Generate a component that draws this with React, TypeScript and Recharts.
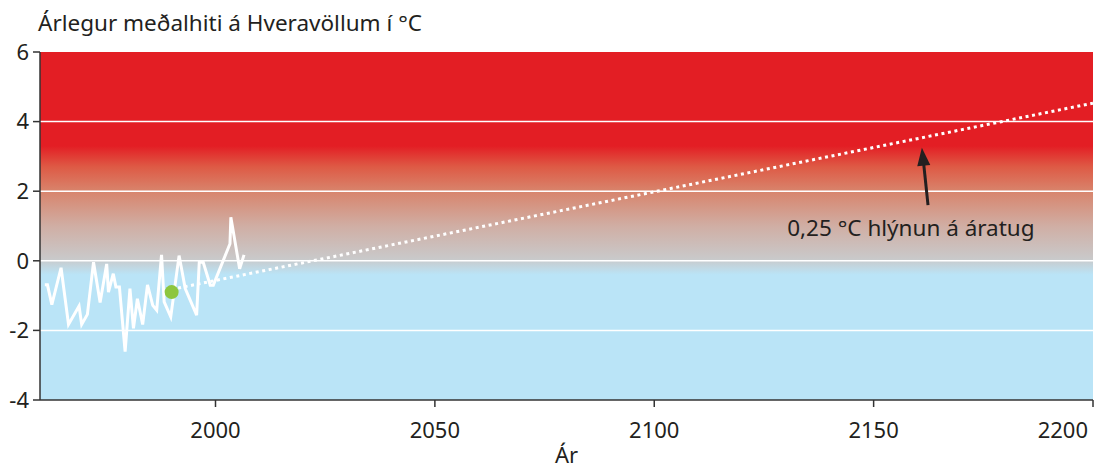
import React from 'react';
import {
  LineChart, Line, XAxis, YAxis, ReferenceArea, ReferenceLine, ReferenceDot,
} from 'recharts';

const histYears = [1961.1, 1961.7, 1962.7, 1964.8, 1966.5, 1968.9, 1969.5, 1970.8, 1972.2, 1973.7, 1975.2, 1975.6, 1976.7, 1977.3, 1978.1, 1979.4, 1980.5, 1981.3, 1982.2, 1983.4, 1984.5, 1985.7, 1986.6, 1987.7, 1988.3, 1989.8, 1991.7, 1993.1, 1995.7, 1996.3, 1997.2, 1998.8, 1999.5, 2003.3, 2003.5, 2005.5, 2006.5];
const histTemps = [-0.69, -0.69, -1.26, -0.2, -1.83, -1.3, -1.83, -1.54, -0.04, -1.2, -0.09, -0.9, -0.37, -0.75, -0.75, -2.61, -0.8, -1.94, -1.09, -1.83, -0.69, -1.28, -1.42, 0.17, -1.18, -1.61, 0.15, -0.8, -1.56, -0.04, -0.04, -0.7, -0.7, 0.49, 1.25, -0.23, 0.17];

// Projected warming trend: 0.25 °C per decade
const trendYears = [1990, 2200];
const trendTemps = [-0.82, 4.53];

// Reference point
const refYear = 1990;
const refTemp = -0.9;

const xTicks = [2000, 2050, 2100, 2150, 2200];
const yTicks = [-4, -2, 0, 2, 4, 6];
const gridValues = [-2, 0, 2, 4];

const titleText = 'Árlegur meðalhiti á Hveravöllum í °C';
const xLabel = 'Ár';
const annotationText = '0,25 °C hlýnun á áratug';
const arrowTip = { year: 2161, temp: 3.25 };
const arrowBase = { year: 2162.4, temp: 1.6 };
const annotationPos = { year: 2158.5, temp: 0.95 };

const histData = histYears.map((y, i) => ({ year: y, temp: histTemps[i] }));
const trendData = trendYears.map((y, i) => ({ year: y, trend: trendTemps[i] }));

const FONT = '"Noto Sans", "Open Sans", sans-serif';
const DARK = '#231F20';

const BgShape = (props: any) => {
  const { x, y, width, height } = props;
  return (
    <g>
      <defs>
        <linearGradient id="bgGrad" x1="0" y1="0" x2="0" y2="1">
          <stop offset="0" stopColor="#E31E24" />
          <stop offset="0.27" stopColor="#E31E24" />
          <stop offset="0.33" stopColor="#DE5A45" />
          <stop offset="0.4" stopColor="#D8846C" />
          <stop offset="0.5" stopColor="#D0AEA4" />
          <stop offset="0.595" stopColor="#C9C9CA" />
          <stop offset="0.64" stopColor="#BAE4F7" />
          <stop offset="1" stopColor="#BAE4F7" />
        </linearGradient>
      </defs>
      <rect x={x} y={y} width={width} height={height} fill="url(#bgGrad)" />
    </g>
  );
};

const ArrowHead = (props: any) => {
  const { cx, cy } = props;
  const pts = `${cx},${cy} ${cx + 8.4},${cy + 17.2} ${cx - 4.6},${cy + 18.6}`;
  return <polygon points={pts} fill={DARK} />;
};

const AnnotationText = (props: any) => {
  const { cx, cy } = props;
  return (
    <text x={cx} y={cy} textAnchor="middle" dominantBaseline="central" fontSize={22.5} fontFamily={FONT} fill={DARK}>
      {annotationText}
    </text>
  );
};

const XTick = (props: any) => {
  const { x, y, payload } = props;
  const isLast = payload.value === xTicks[xTicks.length - 1];
  return (
    <text x={isLast ? x + 2 : x} y={y} dy="0.71em" textAnchor={isLast ? 'end' : 'middle'} fontSize={22} fontFamily={FONT} fill={DARK}>
      {payload.value}
    </text>
  );
};

export default function App() {
  return (
    <div style={{ position: 'absolute', left: 0, top: 0, width: 1102, height: 468, background: '#fff' }}>
      <div style={{ position: 'absolute', left: 38, top: 11.5, fontFamily: FONT, fontSize: 22.5, lineHeight: '22.5px', color: DARK, whiteSpace: 'nowrap' }}>
        {titleText}
      </div>
      <LineChart width={1102} height={468} margin={{ top: 52, right: 9, bottom: 0, left: 0 }}>
        <XAxis
          dataKey="year"
          type="number"
          domain={[1960, 2200]}
          ticks={xTicks}
          allowDataOverflow
          height={68}
          tickSize={7}
          tickMargin={15}
          stroke="#333"
          strokeWidth={1.5}
          tick={<XTick />}
          label={{ value: xLabel, position: 'insideBottom', offset: 5, fill: DARK, fontSize: 22, fontFamily: FONT }}
        />
        <YAxis
          type="number"
          domain={[-4, 6]}
          ticks={yTicks}
          allowDataOverflow
          width={40}
          tickSize={7}
          tickMargin={4}
          stroke="#333"
          strokeWidth={1.5}
          tick={{ fill: DARK, fontSize: 22, fontFamily: FONT }}
        />
        <ReferenceArea x1={1960} x2={2200} y1={-4} y2={6} shape={BgShape} fillOpacity={1} />
        {gridValues.map((v) => (
          <ReferenceLine key={v} y={v} stroke="#FFFFFF" strokeWidth={1.5} />
        ))}
        <Line
          data={trendData}
          dataKey="trend"
          stroke="#FFFFFF"
          strokeWidth={3}
          strokeDasharray="3 3.6"
          dot={false}
          isAnimationActive={false}
        />
        <Line
          data={histData}
          dataKey="temp"
          stroke="#FFFFFF"
          strokeWidth={3}
          dot={false}
          isAnimationActive={false}
        />
        <ReferenceDot x={refYear} y={refTemp} r={7} fill="#8DC63F" stroke="none" />
        <ReferenceLine
          segment={[{ x: arrowBase.year, y: arrowBase.temp }, { x: arrowTip.year + 0.4, y: arrowTip.temp - 0.45 }]}
          stroke={DARK}
          strokeWidth={3}
        />
        <ReferenceDot x={arrowTip.year} y={arrowTip.temp} shape={ArrowHead} />
        <ReferenceDot x={annotationPos.year} y={annotationPos.temp} shape={AnnotationText} />
      </LineChart>
    </div>
  );
}
